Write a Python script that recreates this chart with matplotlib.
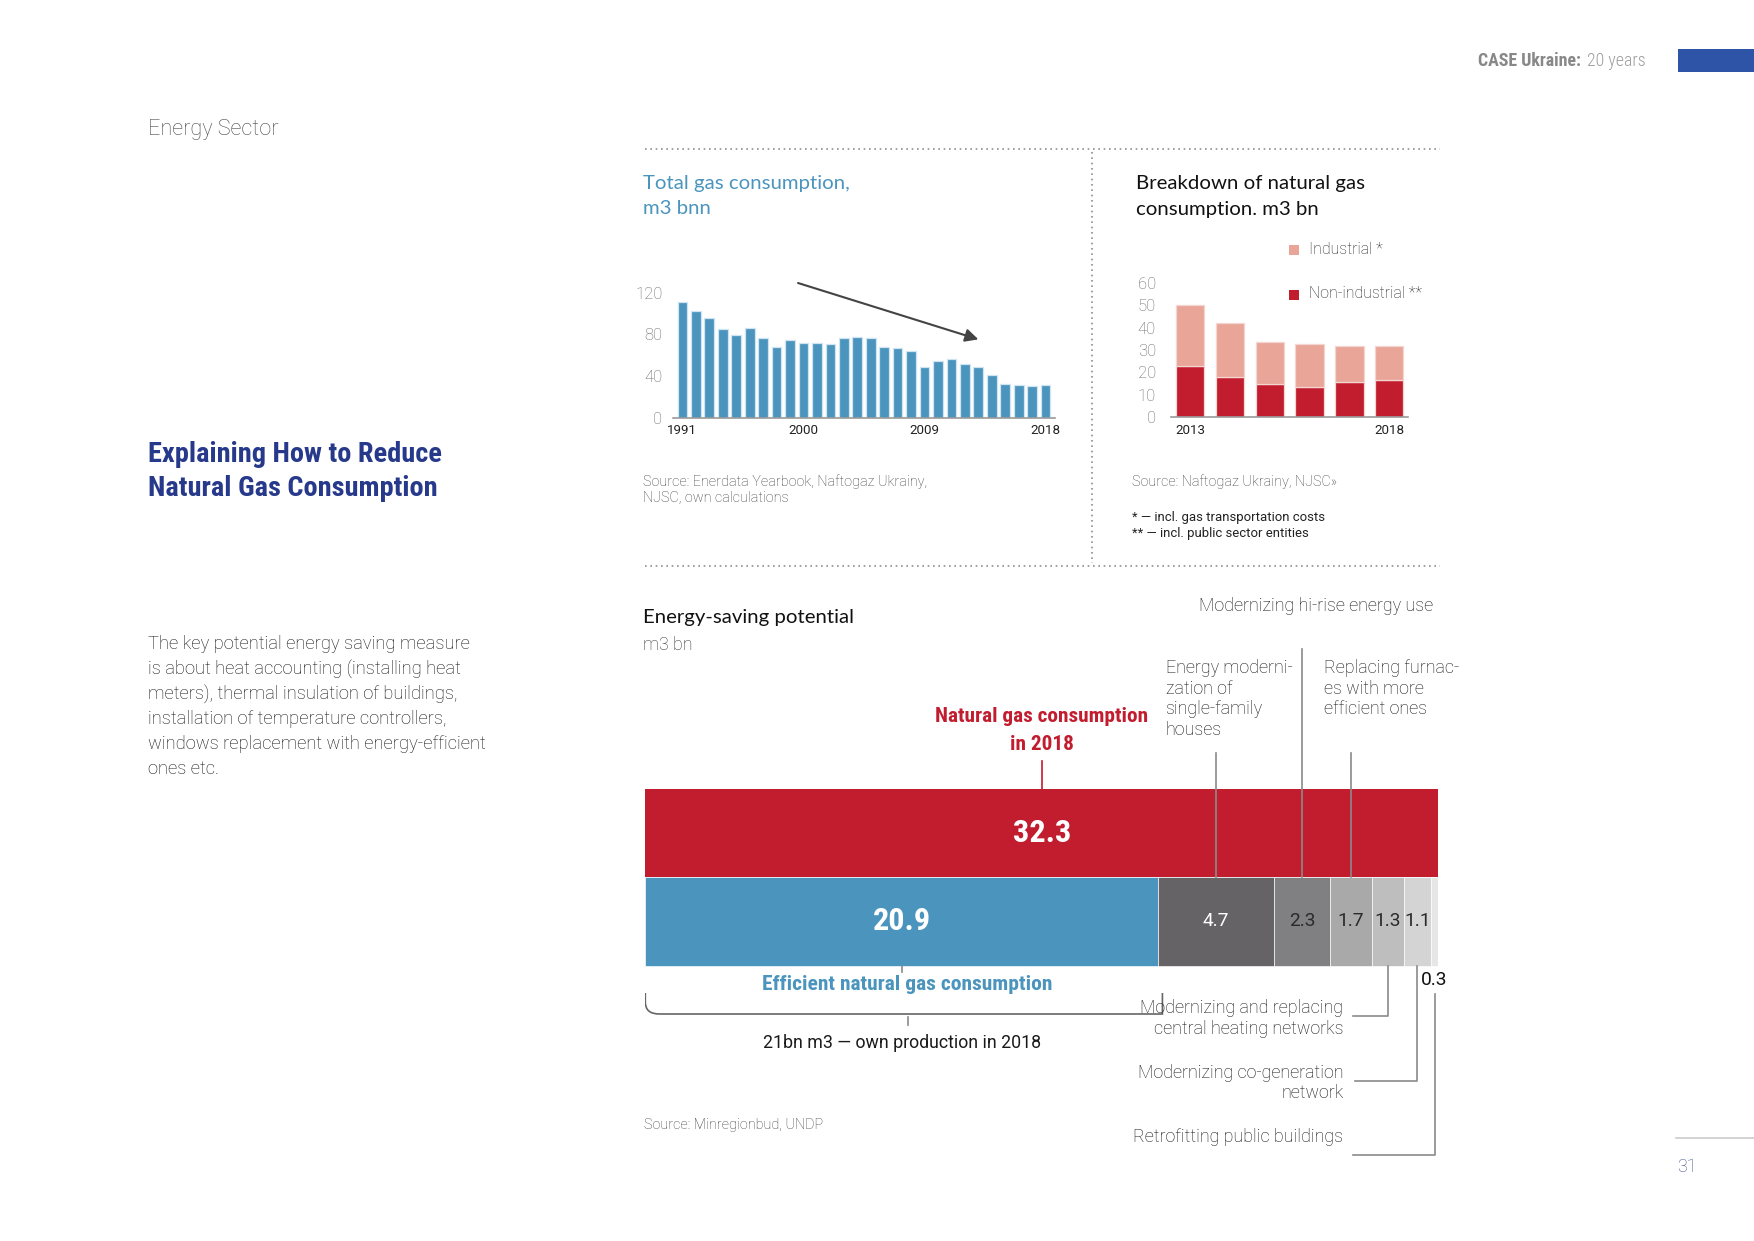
import matplotlib
matplotlib.use('Agg')
import matplotlib.pyplot as plt
from matplotlib import font_manager
from matplotlib.patches import Rectangle, PathPatch
from matplotlib.path import Path
import numpy as np

# fonts
names = {f.name for f in font_manager.fontManager.ttflist}
COND = next((n for n in ['Roboto Condensed', 'Liberation Sans Narrow', 'Roboto'] if n in names), 'DejaVu Sans')
ROBOTO = 'Roboto' if 'Roboto' in names else 'DejaVu Sans'
HUMAN = next((n for n in ['Lato', 'Open Sans', 'Noto Sans'] if n in names), 'DejaVu Sans')
plt.rcParams['font.family'] = [ROBOTO, 'DejaVu Sans']

# data
years = list(range(1991, 2019))
total_gas = [111, 102.4, 95.4, 84.8, 79, 85.8, 76.2, 68.2, 74.2, 71.4, 71.4, 70.4, 76.2, 77.1,
             76.2, 68.2, 66.6, 63.7, 48.3, 54.7, 56, 51.2, 48.6, 41, 32.3, 31.7, 30.4, 31]
gas_ticks = [0, 40, 80, 120]
year_labels = [1991, 2000, 2009, 2018]

break_years = [2013, 2014, 2015, 2016, 2017, 2018]
non_industrial = [23.1, 18.2, 14.7, 13.4, 15.9, 16.7]
industrial = [26.9, 24.1, 18.8, 19.5, 15.8, 15.3]
break_ticks = [0, 10, 20, 30, 40, 50, 60]

total_2018 = 32.3
saving_values = [20.9, 4.7, 2.3, 1.7, 1.3, 1.1, 0.3]
saving_colors = ['#4A94BD', '#656366', '#807F81', '#A9A9A9', '#BEBEBE', '#D4D4D4', '#E6E6E6']
saving_text = ['white', 'white', '#2a2a2a', '#2a2a2a', '#2a2a2a', '#2a2a2a', '#111111']

BLUE = '#4A94BD'
RED = '#C21D2F'
PINK = '#E8A598'
NAVY = '#27398A'
GREY_LINE = '#8a8a8a'
TEXT = '#111111'

W, H = 1754, 1241
fig = plt.figure(figsize=(W / 150, H / 150), dpi=150)
page = fig.add_axes([0, 0, 1, 1])
page.set_xlim(0, W)
page.set_ylim(H, 0)
page.axis('off')


def box(x0, y0, x1, y1):
    return [x0 / W, 1 - y1 / H, (x1 - x0) / W, (y1 - y0) / H]


def txt(x, y, s, **kw):
    kw.setdefault('va', 'center')
    kw.setdefault('family', ROBOTO)
    page.text(x, y, s, **kw)


# page header / side column
txt(1581, 61, 'CASE Ukraine:', ha='right', family=COND, weight='bold', size=8.6, color='#888888')
txt(1587, 61, '20 years', ha='left', family=COND, weight='light', size=8.6, color='#9e9e9e')
page.add_patch(Rectangle((1678, 49), 76, 23, color='#2E54A8', lw=0))
txt(148, 130, 'Energy Sector', size=10.4, weight='light', color='#4a4a4a')

tsize = 13.6 if COND != ROBOTO else 11.8
txt(148, 455, 'Explaining How to Reduce', family=COND, weight='bold', size=tsize, color=NAVY)
txt(148, 489, 'Natural Gas Consumption', family=COND, weight='bold', size=tsize, color=NAVY)

body = ['The key potential energy saving measure',
        'is about heat accounting (installing heat',
        'meters), thermal insulation of buildings,',
        'installation of temperature controllers,',
        'windows replacement with energy-efficient',
        'ones etc.']
for i, line in enumerate(body):
    txt(148, 644 + 25 * i, line, size=8.8, weight='light', color=TEXT)

page.plot([1676, 1754], [1138, 1138], color='#cccccc', lw=0.8)
txt(1677, 1167, '31', size=8.6, weight='light', color='#3F4F8A')

# dotted frame
dot = dict(ls=(0, (1, 2.2)), color='#8f8f8f', lw=0.8)
page.plot([645, 1440], [149, 149], **dot)
page.plot([645, 1440], [566, 566], **dot)
page.plot([1092, 1092], [152, 563], **dot)

# chart titles and sources
txt(643, 184, 'Total gas consumption,', family=HUMAN, size=9.8, color=BLUE)
txt(643, 209, 'm3 bnn', family=HUMAN, size=9.8, color=BLUE)
txt(1136, 184, 'Breakdown of natural gas', family=HUMAN, size=9.8, color='#111111')
txt(1136, 209, 'consumption. m3 bn', family=HUMAN, size=9.8, color='#111111')
src = dict(size=6.9, weight='light', color='#3d3d3d')
txt(643, 482, 'Source: Enerdata Yearbook, Naftogaz Ukrainy,', **src)
txt(643, 498, 'NJSC, own calculations', **src)
txt(1132, 482, 'Source: Naftogaz Ukrainy, NJSC»', **src)
txt(1132, 517, '* — incl. gas transportation costs', size=6.3, color='#222222')
txt(1132, 533, '** — incl. public sector entities', size=6.3, color='#222222')

# chart 1: total gas consumption
ax1 = fig.add_axes(box(673, 417.7 - 125 * 1.0417, 1055, 417.7))
x1 = np.arange(len(years))
ax1.bar(x1, total_gas, width=0.72, color=BLUE, edgecolor='#cfe4f0', lw=0.6)
ax1.set_xlim(-0.7, len(years) - 0.3)
ax1.set_ylim(0, 125)
ax1.set_yticks(gas_ticks)
ax1.set_xticks([years.index(y) for y in year_labels])
ax1.set_xticklabels(year_labels)
ax1.annotate('', xy=(22.3, 74), xytext=(8.3, 130.5),
             arrowprops=dict(arrowstyle='-|>', color='#444444', lw=1, mutation_scale=13),
             annotation_clip=False)

# chart 2: breakdown
ax2 = fig.add_axes(box(1170.7, 417.3 - 62 * 2.24, 1408.3, 417.3))
x2 = np.arange(len(break_years))
ax2.bar(x2, non_industrial, width=0.71, color=RED, edgecolor='#f4d6d1', lw=0.6)
ax2.bar(x2, industrial, bottom=non_industrial, width=0.71, color=PINK, edgecolor='#f4d6d1', lw=0.6)
ax2.set_xlim(-0.49, len(break_years) - 0.52)
ax2.set_ylim(0, 62)
ax2.set_yticks(break_ticks)
ax2.set_xticks([0, len(break_years) - 1])
ax2.set_xticklabels([break_years[0], break_years[-1]])

for ax, pad in ((ax1, 5), (ax2, 7)):
    ax.set_facecolor('none')
    for s in ('top', 'right', 'left'):
        ax.spines[s].set_visible(False)
    ax.spines['bottom'].set_color('#9a9a9a')
    ax.spines['bottom'].set_linewidth(0.8)
    ax.tick_params(axis='y', length=0, pad=pad, labelsize=8, labelcolor='#666666')
    ax.tick_params(axis='x', length=0, pad=3, labelsize=6.4, labelcolor='#222222')
    for lab in ax.get_yticklabels():
        lab.set_fontweight('light')

# legend
for y, c, lab in ((250, PINK, 'Industrial *'), (295, RED, 'Non-industrial **')):
    page.add_patch(Rectangle((1289, y - 5), 10, 10, color=c, lw=0))
    txt(1309, y - 1, lab, size=7.6, weight='light', color='#222222')

# chart 3: energy saving potential
X0, X1 = 645.3, 1438.3
ax3 = fig.add_axes(box(X0, 590, X1, 1170))
ax3.set_xlim(0, total_2018)
ax3.set_ylim(1170, 590)
ax3.axis('off')
PXU = (X1 - X0) / total_2018


def u(px):
    return (px - X0) / PXU


ROW = 88.4
Y_TOP, Y_MID, Y_BOT = 789, 877.3, 965.7
ax3.barh(Y_TOP + ROW / 2, total_2018, height=ROW, left=0, color=RED, lw=0)
lefts = np.concatenate([[0], np.cumsum(saving_values)[:-1]])
centers = lefts + np.array(saving_values) / 2
ax3.barh(Y_MID + ROW / 2, saving_values, height=ROW, left=lefts, color=saving_colors,
         edgecolor='#ffffff', lw=0.3)

ax3.text(total_2018 / 2, Y_TOP + ROW / 2, f'{total_2018}', ha='center', va='center',
         family=COND, weight='bold', size=15.5, color='white')
ax3.text(centers[0], Y_MID + ROW / 2, f'{saving_values[0]}', ha='center', va='center',
         family=COND, weight='bold', size=15.5, color='white')
for i in range(1, 6):
    ax3.text(centers[i], Y_MID + ROW / 2, f'{saving_values[i]}', ha='center', va='center',
             size=9.2, color=saving_text[i])
ax3.text(centers[6], 980, f'{saving_values[6]}', ha='center', va='center', size=9.2, color='#111111')

# 2018 label
ax3.plot([total_2018 / 2] * 2, [761, Y_TOP], color=RED, lw=0.8)
ax3.text(total_2018 / 2, 716, 'Natural gas consumption', ha='center', va='center',
         family=COND, weight='bold', size=10.2, color=RED)
ax3.text(total_2018 / 2, 744, 'in 2018', ha='center', va='center',
         family=COND, weight='bold', size=10.2, color=RED)

# top annotations
for i, ytop in ((1, 753), (2, 649), (3, 753)):
    ax3.plot([centers[i]] * 2, [ytop, Y_MID], color=GREY_LINE, lw=0.8, zorder=5)
ann = dict(size=8.6, weight='light', color=TEXT, va='center', family=ROBOTO)
ax3.text(u(1433), 606, 'Modernizing hi-rise energy use', ha='right', **ann)
for k, line in enumerate(['Energy moderni-', 'zation of', 'single-family', 'houses']):
    ax3.text(u(1165.5), 668 + 20.7 * k, line, ha='left', **ann)
for k, line in enumerate(['Replacing furnac-', 'es with more', 'efficient ones']):
    ax3.text(u(1324), 668 + 20.7 * k, line, ha='left', **ann)

# bottom right annotations
ax3.plot([centers[4], centers[4], u(1352.7)], [Y_BOT, 1015.7, 1015.7], color=GREY_LINE, lw=0.8)
ax3.plot([centers[5], centers[5], u(1355)], [Y_BOT, 1080.7, 1080.7], color=GREY_LINE, lw=0.8)
ax3.plot([centers[6], centers[6], u(1352.7)], [994, 1155, 1155], color=GREY_LINE, lw=0.8)
ax3.text(u(1343.3), 1008.3, 'Modernizing and replacing', ha='right', **ann)
ax3.text(u(1343.3), 1029.3, 'central heating networks', ha='right', **ann)
ax3.text(u(1343.3), 1072.7, 'Modernizing co-generation', ha='right', **ann)
ax3.text(u(1343.3), 1092.7, 'network', ha='right', **ann)
ax3.text(u(1343.3), 1136.7, 'Retrofitting public buildings', ha='right', **ann)

# efficient consumption bracket
ax3.plot([centers[0]] * 2, [Y_BOT, 972], color=GREY_LINE, lw=0.8)
ax3.text(centers[0] + u(X0 + 5) - u(X0), 985, 'Efficient natural gas consumption', ha='center',
         va='center', family=COND, weight='bold', size=10.3, color=BLUE)
rx = u(X0 + 14) - u(X0)
right = saving_values[0] + u(X0 + 4) - u(X0)
verts = [(0, 993), (0, 1002), (0, 1014), (rx, 1014), (right, 1014), (right, 993)]
codes = [Path.MOVETO, Path.LINETO, Path.CURVE3, Path.CURVE3, Path.LINETO, Path.LINETO]
ax3.add_patch(PathPatch(Path(verts, codes), fill=False, edgecolor='#666666', lw=0.8))
ax3.plot([centers[0] + u(X0 + 6) - u(X0)] * 2, [1017, 1025], color=GREY_LINE, lw=0.8)
ax3.text(centers[0], 1043, '21bn m3 — own production in 2018', ha='center', va='center',
         size=8.5, color='#1a1a1a')

txt(643, 617, 'Energy-saving potential', family=HUMAN, size=9.8, color='#111111')
txt(643, 645, 'm3 bn', size=8.6, weight='light', color='#333333')
txt(644, 1125, 'Source: Minregionbud, UNDP', **src)

fig.savefig('out.png', dpi=150)
